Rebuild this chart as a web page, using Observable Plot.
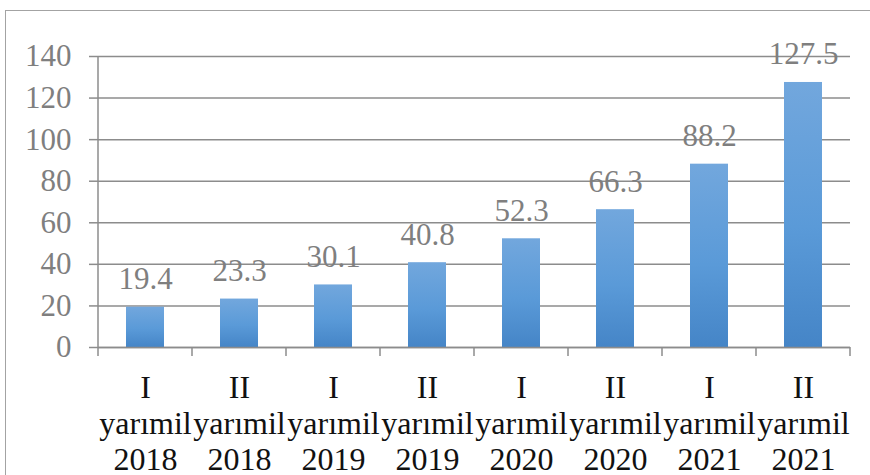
<!DOCTYPE html>
<html>
<head>
<meta charset="utf-8">
<script src="https://cdn.jsdelivr.net/npm/d3@7"></script>
<script src="https://cdn.jsdelivr.net/npm/@observablehq/plot@0.6"></script>
<style>
  html, body { margin: 0; padding: 0; background: #fff; }
  #wrap { position: relative; width: 870px; height: 475px; overflow: hidden; }
  #border { position: absolute; left: 5px; top: 10px; width: 900px; height: 500px;
            border-left: 1.5px solid #a3a3a3; border-top: 1.5px solid #a3a3a3; }
  #chart { position: absolute; left: 0; top: 0; }
</style>
</head>
<body>
<div id="wrap">
  <div id="border"></div>
  <div id="chart"></div>
</div>
<script>
// Half-year periods and values
const halves = ["I", "II", "I", "II", "I", "II", "I", "II"];
const years = [2018, 2018, 2019, 2019, 2020, 2020, 2021, 2021];
const values = [19.4, 23.3, 30.1, 40.8, 52.3, 66.3, 88.2, 127.5];
const yTicks = [0, 20, 40, 60, 80, 100, 120, 140];

const categories = halves.map((h, i) => `${h}\nyarımil\n${years[i]}`);
const data = categories.map((c, i) => ({ period: c, value: values[i] }));

const gray = "#8c8c8c";
const textGray = "#7f7f7f";
const font = "'Liberation Serif', 'Times New Roman', serif";

// Vertical gradient used to fill each column
function gradientDefs() {
  const defs = d3.create("svg:defs");
  const g = defs.append("linearGradient")
    .attr("id", "colGrad").attr("x1", 0).attr("y1", 0).attr("x2", 0).attr("y2", 1);
  g.append("stop").attr("offset", "0%").attr("stop-color", "#72a7dd");
  g.append("stop").attr("offset", "55%").attr("stop-color", "#5a9ad8");
  g.append("stop").attr("offset", "100%").attr("stop-color", "#4585c7");
  return defs.node();
}

// Category-boundary tick marks below the baseline, and the vertical axis line
function axisLines(index, scales, values, dimensions) {
  const x = scales.x;
  const step = x(categories[1]) - x(categories[0]);
  const bw = typeof x.bandwidth === "function" ? x.bandwidth() : step * 0.4;
  const gap = (step - bw) / 2;
  const xs = categories.map(c => x(c) - gap).concat([x(categories[categories.length - 1]) + bw + gap]);
  const y0 = scales.y(0);
  const yTop = scales.y(yTicks[yTicks.length - 1]);
  const g = d3.create("svg:g").attr("stroke", gray).attr("stroke-width", 1.5);
  g.selectAll("line.t").data(xs).join("line")
    .attr("x1", d => d).attr("x2", d => d)
    .attr("y1", y0).attr("y2", y0 + 9);
  g.append("line")
    .attr("x1", xs[0]).attr("x2", xs[0])
    .attr("y1", yTop).attr("y2", y0);
  return g.node();
}

const chart = Plot.plot({
  width: 870,
  height: 475,
  marginLeft: 98,
  marginRight: 20,
  marginTop: 56,
  marginBottom: 128,
  style: { fontFamily: font, background: "transparent", overflow: "visible" },
  x: { domain: categories, paddingInner: 0.6, paddingOuter: 0.3, label: null },
  y: { domain: [0, 140], ticks: yTicks, label: null },
  marks: [
    gradientDefs,
    Plot.gridY(yTicks, { stroke: gray, strokeOpacity: 1, strokeWidth: 1.5 }),
    Plot.axisY(yTicks, {
      tickSize: 9, tickPadding: 18, stroke: gray, strokeWidth: 1.5,
      fill: textGray, fontSize: 31, label: null
    }),
    Plot.axisX({
      tickSize: 0, tickPadding: 25, fontSize: 32, lineHeight: 1.12,
      fill: "#111", label: null
    }),
    Plot.barY(data, { x: "period", y: "value", fill: "url(#colGrad)" }),
    Plot.ruleY([0], { stroke: gray, strokeWidth: 1.5 }),
    axisLines,
    Plot.text(data, {
      x: "period", y: "value", text: d => d.value.toFixed(1),
      lineAnchor: "bottom", dy: -18, fill: textGray, fontSize: 31
    })
  ]
});

document.getElementById("chart").appendChild(chart);
</script>
</body>
</html>
